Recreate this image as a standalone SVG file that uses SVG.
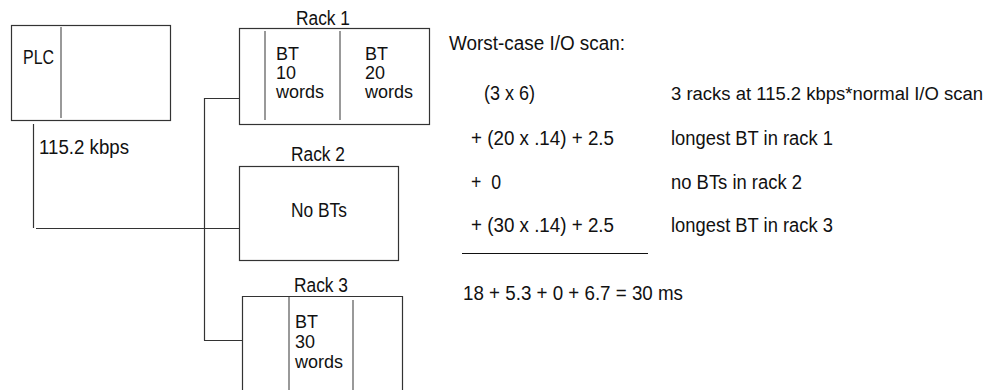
<svg xmlns="http://www.w3.org/2000/svg" width="996" height="390" viewBox="0 0 996 390">
<style>
text{font-family:"Liberation Sans",Arial,sans-serif;font-size:20px;fill:#111}
text.s{font-size:18px}
.c{text-anchor:middle}
.box{fill:none;stroke:#333;stroke-width:1.2}
.div{stroke:#555;stroke-width:1.2}
.ln{fill:none;stroke:#333;stroke-width:1.2}
</style>
<rect width="996" height="390" fill="#fff"/>
<g id="plc">
<rect class="box" x="11.5" y="25.5" width="159" height="95"/>
<line class="div" x1="61" y1="27" x2="61" y2="118"/>
<text x="23" y="64" textLength="31" lengthAdjust="spacingAndGlyphs">PLC</text>
</g>
<g id="rack1">
<text class="c" x="323" y="25" textLength="54" lengthAdjust="spacingAndGlyphs">Rack 1</text>
<rect class="box" x="239.5" y="28.5" width="190" height="96"/>
<line class="div" x1="265" y1="31" x2="265" y2="120"/>
<line class="div" x1="340" y1="31" x2="340" y2="120"/>
<text class="s" x="276" y="60" textLength="23" lengthAdjust="spacingAndGlyphs">BT</text>
<text class="s" x="276" y="79" textLength="20" lengthAdjust="spacingAndGlyphs">10</text>
<text class="s" x="276" y="98" textLength="48" lengthAdjust="spacingAndGlyphs">words</text>
<text class="s" x="365" y="60" textLength="23" lengthAdjust="spacingAndGlyphs">BT</text>
<text class="s" x="365" y="79" textLength="20" lengthAdjust="spacingAndGlyphs">20</text>
<text class="s" x="365" y="98" textLength="48" lengthAdjust="spacingAndGlyphs">words</text>
</g>
<g id="rack2">
<text class="c" x="318" y="161" textLength="54" lengthAdjust="spacingAndGlyphs">Rack 2</text>
<rect class="box" x="239.5" y="166.5" width="159" height="94"/>
<text class="c" x="319" y="217" textLength="56" lengthAdjust="spacingAndGlyphs">No BTs</text>
</g>
<g id="rack3">
<text class="c" x="321" y="292" textLength="54" lengthAdjust="spacingAndGlyphs">Rack 3</text>
<path class="box" d="M242.5,392 V296.5 H402.5 V392"/>
<line class="div" x1="289" y1="297" x2="289" y2="392"/>
<line class="div" x1="353" y1="300" x2="353" y2="392"/>
<text class="s" x="295" y="328" textLength="23" lengthAdjust="spacingAndGlyphs">BT</text>
<text class="s" x="295" y="348" textLength="20" lengthAdjust="spacingAndGlyphs">30</text>
<text class="s" x="295" y="368" textLength="48" lengthAdjust="spacingAndGlyphs">words</text>
</g>
<g id="connectors">
<path class="ln" d="M33.5,124 V228"/>
<path class="ln" d="M36,228.5 H240"/>
<path class="ln" d="M204.5,98 V340.5"/>
<path class="ln" d="M204,98.5 H240"/>
<path class="ln" d="M204,340.5 H242"/>
<text x="39" y="154" textLength="90" lengthAdjust="spacingAndGlyphs">115.2 kbps</text>
</g>
<g id="calc">
<text x="449" y="50" textLength="176" lengthAdjust="spacingAndGlyphs">Worst-case I/O scan:</text>
<text x="484" y="100" textLength="51" lengthAdjust="spacingAndGlyphs">(3 x 6)</text>
<text class="s" x="671" y="100" textLength="312" lengthAdjust="spacingAndGlyphs">3 racks at 115.2 kbps*normal I/O scan</text>
<text x="471" y="145" textLength="143" lengthAdjust="spacingAndGlyphs">+ (20 x .14) + 2.5</text>
<text x="671" y="145" textLength="162" lengthAdjust="spacingAndGlyphs">longest BT in rack 1</text>
<text x="471" y="189" xml:space="preserve" textLength="30" lengthAdjust="spacingAndGlyphs">+  0</text>
<text x="671" y="189" textLength="131" lengthAdjust="spacingAndGlyphs">no BTs in rack 2</text>
<text x="471" y="232" textLength="143" lengthAdjust="spacingAndGlyphs">+ (30 x .14) + 2.5</text>
<text x="671" y="232" textLength="162" lengthAdjust="spacingAndGlyphs">longest BT in rack 3</text>
<line x1="462" y1="253.5" x2="648" y2="253.5" stroke="#111" stroke-width="1.2"/>
<text x="463" y="300" textLength="220" lengthAdjust="spacingAndGlyphs">18 + 5.3 + 0 + 6.7 = 30 ms</text>
</g>
</svg>
